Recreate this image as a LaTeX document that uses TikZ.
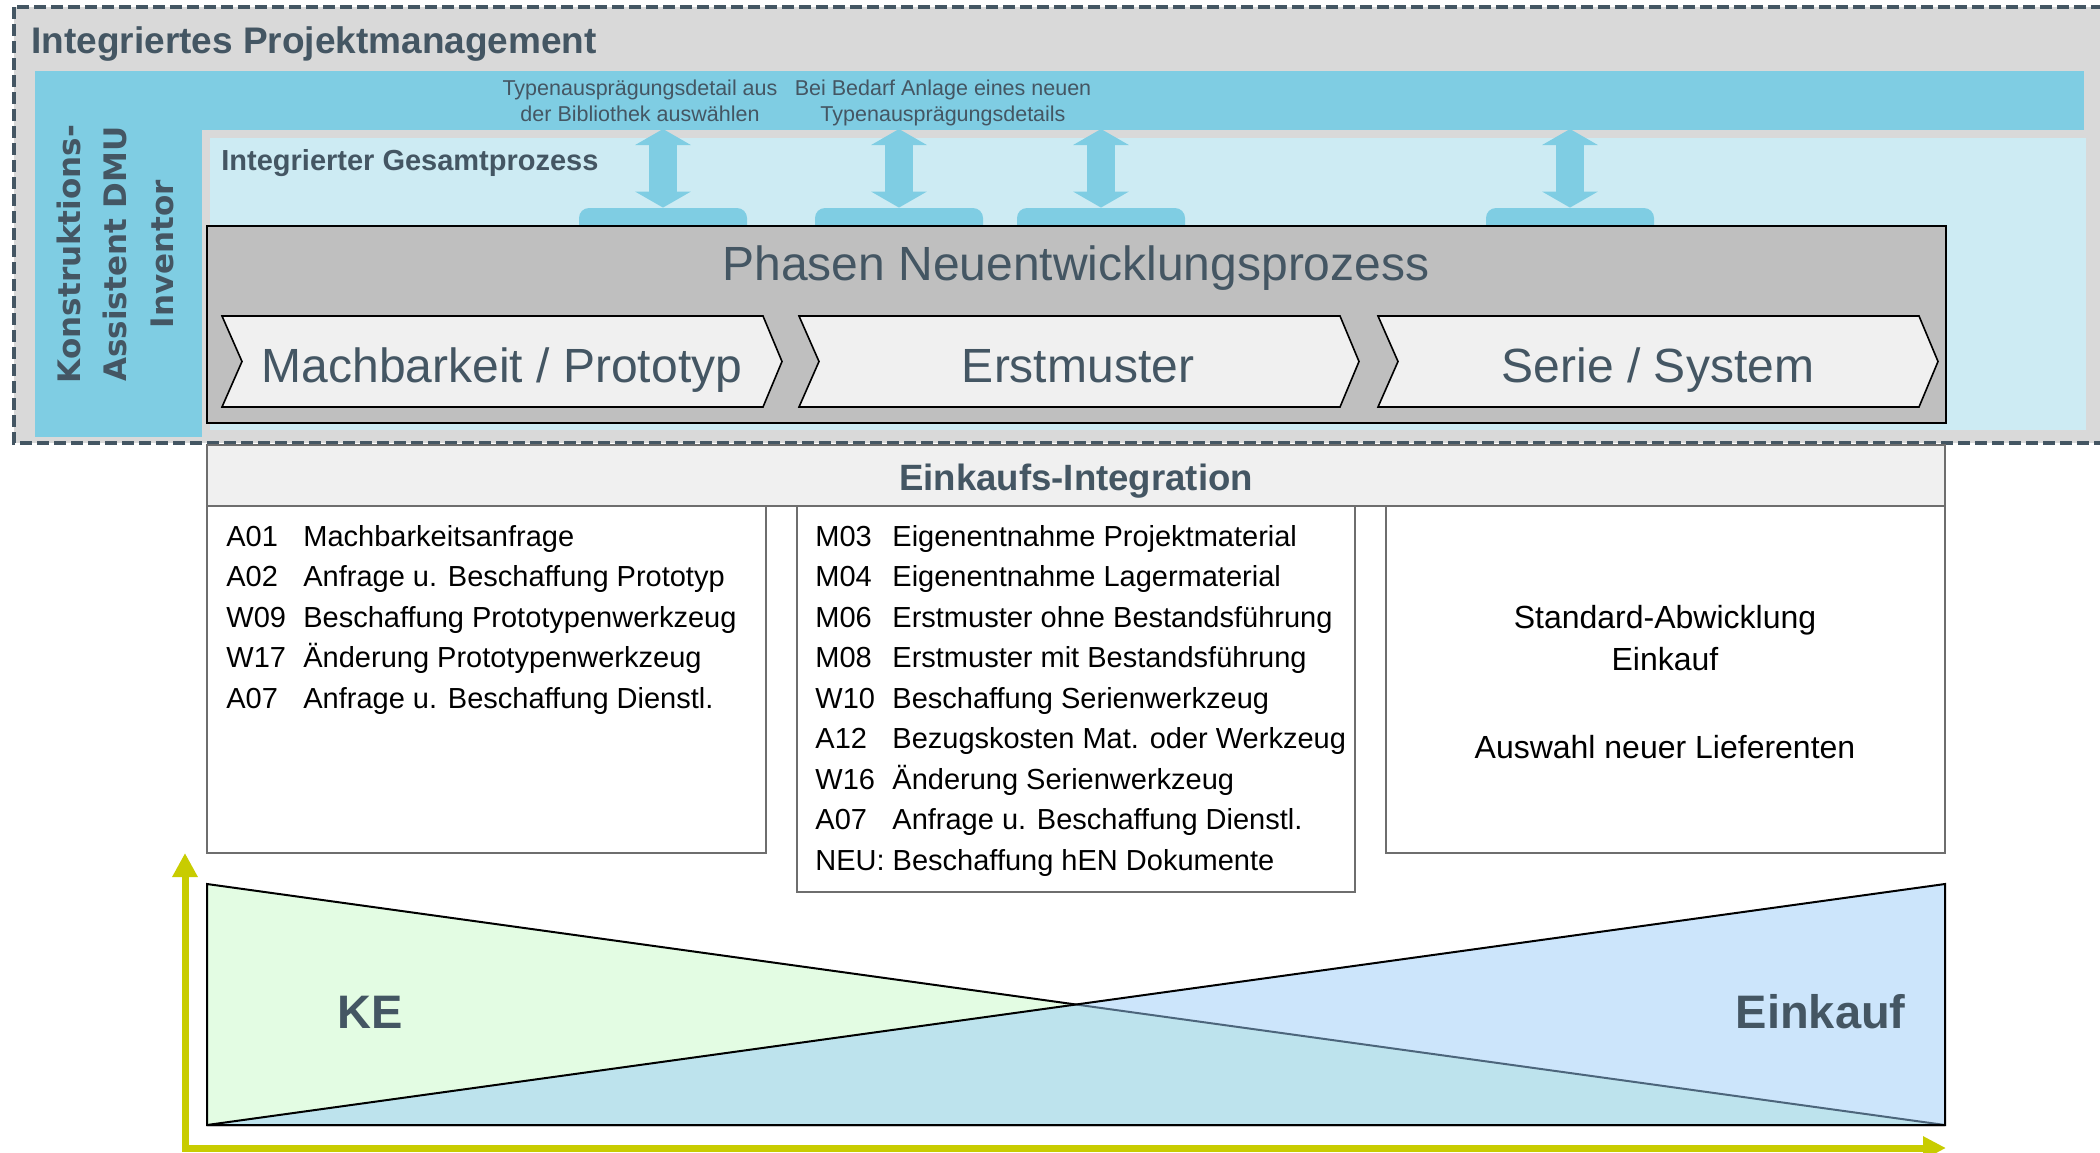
\documentclass[tikz,border=0pt]{standalone}
\usepackage{fontspec}
\setmainfont{Liberation Sans}
\newfontfamily\widefont{DejaVu Sans}
\usetikzlibrary{arrows.meta}

\definecolor{slate}{RGB}{68,86,99}
\definecolor{bggray}{RGB}{217,217,217}
\definecolor{bandblue}{RGB}{127,205,227}
\definecolor{paleblue}{RGB}{205,235,243}
\definecolor{phasegray}{RGB}{191,191,191}
\definecolor{chevgray}{RGB}{240,240,240}
\definecolor{framegray}{RGB}{110,110,110}
\definecolor{kegreen}{RGB}{227,252,227}
\definecolor{ekblue}{RGB}{153,203,247}
\definecolor{axisyellow}{RGB}{200,204,0}

\begin{document}
\begin{tikzpicture}[x=0.5pt,y=-0.5pt,
  title/.style={text=slate, font=\fontsize{18.5}{22}\selectfont\bfseries, inner sep=0pt},
  note/.style={text=slate, font=\fontsize{10.75}{13}\selectfont, align=center, inner sep=0pt},
  phase/.style={text=slate, font=\fontsize{24}{28}\selectfont, inner sep=0pt},
  item/.style={font=\fontsize{14.5}{17}\selectfont, inner sep=0pt, anchor=base west},
  big/.style={text=slate, font=\fontsize{23.5}{28}\selectfont\bfseries, inner sep=0pt},
  tab/.style={fill=bandblue, rounded corners=5pt, minimum width=84pt, minimum height=18pt, inner sep=0pt},
  dblarrow/.style={draw=bandblue, line width=14pt, {Triangle[width=27.5pt,length=8pt]}-{Triangle[width=27.5pt,length=8pt]}},
  chevron/.style={fill=chevgray, draw=black, line width=0.8pt},
  axis/.style={draw=axisyellow, line width=3.5pt, {Triangle[width=12pt,length=12pt]}-{Triangle[width=11pt,length=11.5pt]}}]

\useasboundingbox (0,0) rectangle (2100,1152);

% Integriertes Projektmanagement
\fill[bggray] (14,7) rectangle (2110,443);
\fill[bandblue] (35,71) rectangle (2084,437);
\filldraw[fill=paleblue, draw=bggray, line width=4pt] (206,134) rectangle (2090,434);
\draw[slate, line width=2pt, dash pattern=on 6pt off 2.5pt] (14,7) rectangle (2110,443);

\node[title, anchor=base west] (ipm) at (31,53) {Integriertes Projektmanagement};
\node[title, font=\fontsize{14.5}{17}\selectfont\bfseries, anchor=base west] (igp) at (221,170) {Integrierter Gesamtprozess};
\node[text=slate, font=\widefont\fontsize{15.5}{23.25}\selectfont\bfseries, align=center, rotate=90, inner sep=0pt] (dmu) at (115,254) {Konstruktions-\\Assistent DMU\\Inventor};

% Bibliothek
\node[note] (note1) at (640,101) {Typenausprägungsdetail aus\\der Bibliothek auswählen};
\node[note] (note2) at (943,103) {Bei Bedarf Anlage eines neuen\\Typenausprägungsdetails};

\foreach \x [count=\i] in {663,899,1101,1570} {
  \node[tab] (tab\i) at (\x,226) {};
  \coordinate (band\i) at (\x,129);
  \draw[dblarrow] (band\i) -- (tab\i.north);
}

% Phasen
\filldraw[fill=phasegray, draw=black, line width=1pt] (207,226) rectangle (1946,423);
\node[phase, anchor=base] (phasen) at (1076,280) {Phasen Neuentwicklungsprozess};

\filldraw[chevron, shift={(222,0)}] (0,316) -- (541,316) -- (560,361.5) -- (541,407) -- (0,407) -- (20,361.5) -- cycle;
\filldraw[chevron, shift={(799,0)}] (0,316) -- (541,316) -- (560,361.5) -- (541,407) -- (0,407) -- (20,361.5) -- cycle;
\filldraw[chevron, shift={(1378,0)}] (0,316) -- (541,316) -- (560,361.5) -- (541,407) -- (0,407) -- (20,361.5) -- cycle;
\node[phase, anchor=base] (machb) at (502,382) {Machbarkeit / Prototyp};
\node[phase, anchor=base] (erstm) at (1078,382) {Erstmuster};
\node[phase, anchor=base] (serie) at (1658,382) {Serie / System};

% Einkauf
\filldraw[fill=chevgray, draw=framegray, line width=0.75pt] (207,445) rectangle (1945,506);
\node[title, font=\fontsize{18.3}{22}\selectfont\bfseries, anchor=base] (eki) at (1076,490) {Einkaufs-Integration};

\filldraw[fill=white, draw=framegray, line width=0.75pt] (207,506) rectangle (766,853);
\filldraw[fill=white, draw=framegray, line width=0.75pt] (797,506) rectangle (1355,892);
\filldraw[fill=white, draw=framegray, line width=0.75pt] (1386,506) rectangle (1945,853);

\foreach \c/\t [count=\i from 0] in {A01/Machbarkeitsanfrage, A02/Anfrage u. Beschaffung Prototyp,
    W09/Beschaffung Prototypenwerkzeug, W17/Änderung Prototypenwerkzeug, A07/Anfrage u. Beschaffung Dienstl.} {
  \node[item] (pc\i) at (226,546+40.5*\i) {\c};
  \node[item] (pt\i) at (303,546+40.5*\i) {\t};
}
\foreach \c/\t [count=\i from 0] in {M03/Eigenentnahme Projektmaterial, M04/Eigenentnahme Lagermaterial,
    M06/Erstmuster ohne Bestandsführung, M08/Erstmuster mit Bestandsführung, W10/Beschaffung Serienwerkzeug,
    A12/Bezugskosten Mat. oder Werkzeug, W16/Änderung Serienwerkzeug, A07/Anfrage u. Beschaffung Dienstl.} {
  \node[item] (ec\i) at (815,546+40.5*\i) {\c};
  \node[item] (et\i) at (892,546+40.5*\i) {\t};
}
\node[item] (neu) at (815,870) {NEU: Beschaffung hEN Dokumente};

\node[item, font=\fontsize{16}{19}\selectfont, anchor=base] (std) at (1665,628) {Standard-Abwicklung};
\node[item, font=\fontsize{16}{19}\selectfont, anchor=base] (eink) at (1665,670) {Einkauf};
\node[item, font=\fontsize{16}{19}\selectfont, anchor=base] (lief) at (1665,758) {Auswahl neuer Lieferenten};

% KE / Einkauf
\filldraw[fill=kegreen, draw=black, line width=1pt] (207,884) -- (1945,1125) -- (207,1125) -- cycle;
\filldraw[fill=ekblue, fill opacity=0.5, draw=black, line width=1pt] (207,1125) -- (1945,884) -- (1945,1125) -- cycle;
\node[big, anchor=base west] (ke) at (337,1028) {KE};
\node[big, anchor=base east] (ek) at (1906,1028) {Einkauf};

\coordinate (orig) at (185,1148);
\coordinate (ytip) at (185,853);
\coordinate (xtip) at (1946,1148);
\draw[axis] (ytip) -- (orig) -- (xtip);

\end{tikzpicture}
\end{document}
